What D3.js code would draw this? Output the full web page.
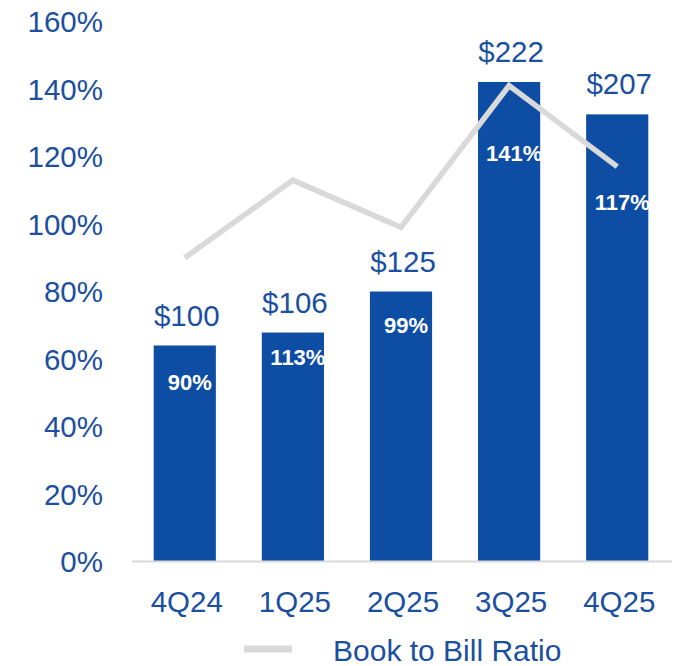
<!DOCTYPE html>
<html>
<head>
<meta charset="utf-8">
<script src="https://cdn.jsdelivr.net/npm/d3@7/dist/d3.min.js"></script>
<style>
  html, body { margin: 0; padding: 0; background: #fff; }
  svg { display: block; font-family: Arial, "Liberation Sans", sans-serif; }
</style>
</head>
<body>
<svg id="chart" width="684" height="666"></svg>
<script>
// Quarterly bookings (USD, bars) and book-to-bill ratio (%, line)
const quarters = ["4Q24", "1Q25", "2Q25", "3Q25", "4Q25"];
const bookings = [100, 106, 125, 222, 207];
const bookToBill = [90, 113, 99, 141, 117];
const percentTicks = [0, 20, 40, 60, 80, 100, 120, 140, 160];
// Level (on the % axis) where each ratio label sits inside its bar
const ratioLabelLevel = [53, 60.5, 70, 121, 106.5];

const blue = "#0E4DA4";
const textBlue = "#1B4F9F";
const grey = "#D9D9D9";

const svg = d3.select("#chart");
const plotTop = 21.5, plotBottom = 561.5, axisLeftX = 132, axisRightX = 672;

const x = d3.scaleBand().domain(quarters).range([131, 671]).paddingInner(0.425).paddingOuter(0.21);
const yPct = d3.scaleLinear().domain([0, 160]).range([plotBottom, plotTop]);
const yUsd = d3.scaleLinear().domain([0, 250]).range([plotBottom, plotTop]);

// Left percentage axis
const yAxis = d3.axisLeft(yPct).tickValues(percentTicks).tickFormat(d => d + "%").tickSize(0).tickPadding(0);
const gy = svg.append("g").attr("transform", "translate(103,0)").call(yAxis);
gy.select(".domain").remove();
gy.selectAll("text").attr("fill", textBlue).style("font-size", "29.5px")
  .style("font-family", "Arial, 'Liberation Sans', sans-serif").attr("dy", "0.35em");

// Bars
svg.append("g").selectAll("rect").data(bookings).join("rect")
  .attr("x", (d, i) => x(quarters[i]))
  .attr("width", x.bandwidth())
  .attr("y", d => yUsd(d))
  .attr("height", d => plotBottom - yUsd(d))
  .attr("fill", blue);

// Baseline / category axis
const xAxis = d3.axisBottom(x).tickSize(0).tickPadding(0);
const gx = svg.append("g").attr("transform", `translate(0,${plotBottom})`).call(xAxis);
gx.select(".domain").remove();
svg.append("line").attr("x1", axisLeftX).attr("x2", axisRightX).attr("y1", plotBottom).attr("y2", plotBottom)
  .attr("stroke", grey).attr("stroke-width", 2);
gx.selectAll("text").attr("fill", textBlue).style("font-size", "29.5px")
  .style("font-family", "Arial, 'Liberation Sans', sans-serif")
  .attr("y", 40).attr("dy", "0.35em").attr("dx", 2);

// Dollar labels above bars
svg.append("g").selectAll("text").data(bookings).join("text")
  .attr("x", (d, i) => x(quarters[i]) + x.bandwidth() / 2 + 2)
  .attr("y", d => yUsd(d) - 20)
  .attr("text-anchor", "middle")
  .attr("fill", textBlue)
  .style("font-size", "29.5px")
  .text(d => "$" + d);

// Book to bill line
const line = d3.line()
  .x((d, i) => x(quarters[i]) + x.bandwidth() / 2)
  .y(d => yPct(d));
svg.append("path").datum(bookToBill)
  .attr("d", line)
  .attr("fill", "none")
  .attr("stroke", grey)
  .attr("stroke-width", 5.5);

// Ratio labels inside bars
svg.append("g").selectAll("text").data(bookToBill).join("text")
  .attr("x", (d, i) => x(quarters[i]) + x.bandwidth() / 2 + 5)
  .attr("y", (d, i) => yPct(ratioLabelLevel[i]))
  .attr("dy", "0.35em")
  .attr("text-anchor", "middle")
  .attr("fill", "#fff")
  .style("font-size", "22px")
  .style("font-weight", "bold")
  .text(d => d + "%");

// Legend
const lg = svg.append("g");
lg.append("line").attr("x1", 244).attr("x2", 292).attr("y1", 649).attr("y2", 649)
  .attr("stroke", grey).attr("stroke-width", 7);
lg.append("text").attr("x", 333).attr("y", 650).attr("dy", "0.35em")
  .attr("fill", textBlue).style("font-size", "30px").text("Book to Bill Ratio");
</script>
</body>
</html>
